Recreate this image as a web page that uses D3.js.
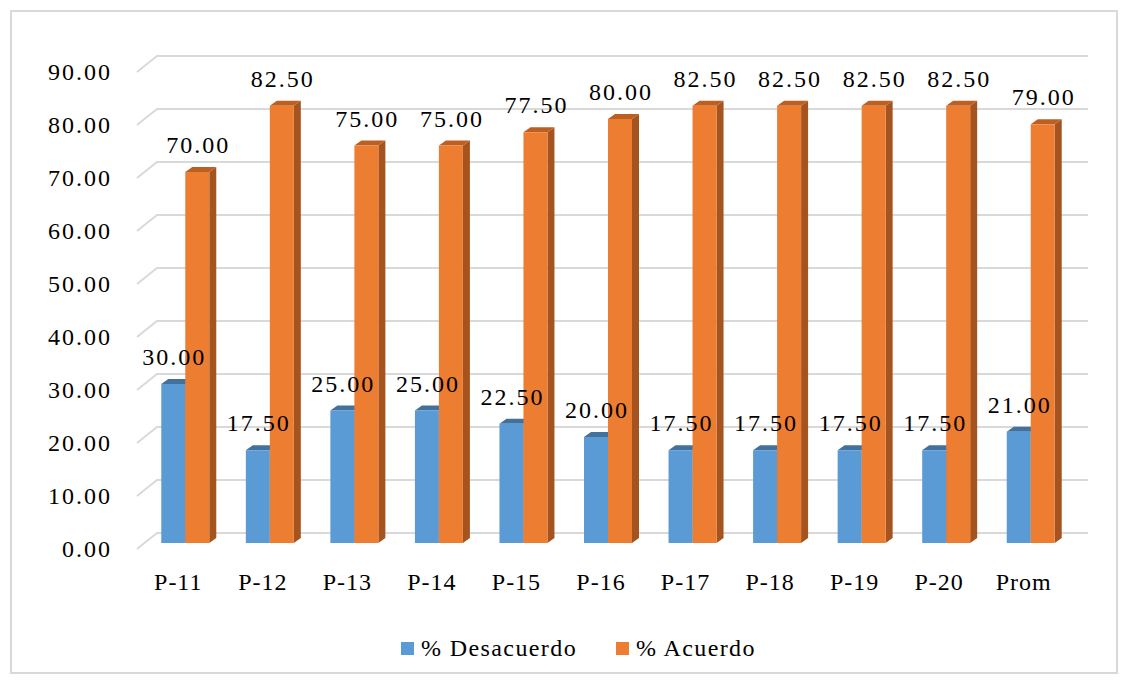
<!DOCTYPE html>
<html>
<head>
<meta charset="utf-8">
<script src="https://cdn.jsdelivr.net/npm/d3@7"></script>
<style>
  body { margin: 0; background: #fff; }
</style>
</head>
<body>
<svg id="chart" width="1128" height="684"></svg>
<script>
// datos del grafico
const categorias = ["P-11", "P-12", "P-13", "P-14", "P-15", "P-16", "P-17", "P-18", "P-19", "P-20", "Prom"];
const desacuerdo = [30.00, 17.50, 25.00, 25.00, 22.50, 20.00, 17.50, 17.50, 17.50, 17.50, 21.00];
const acuerdo = [70.00, 82.50, 75.00, 75.00, 77.50, 80.00, 82.50, 82.50, 82.50, 82.50, 79.00];
const ticks = [0, 10, 20, 30, 40, 50, 60, 70, 80, 90];
const series = [
  { nombre: "% Desacuerdo", valores: desacuerdo, color: "#5B9BD5", top: "#41719C", side: "#3F6F9B" },
  { nombre: "% Acuerdo", valores: acuerdo, color: "#ED7D31", top: "#BE5F22", side: "#A5541F" }
];

const w = 1128, h = 684;
const svg = d3.select("#chart");

// buscar una fuente serif tipo Times que exista
function existeFuente(nombre) {
  const t = svg.append("text").attr("font-size", 40).text("mmmWWlli 90.00 Desacuerdo");
  t.attr("font-family", "monospace");
  const base = t.node().getComputedTextLength();
  t.attr("font-family", "'" + nombre + "', monospace");
  const prueba = t.node().getComputedTextLength();
  t.remove();
  return Math.abs(base - prueba) > 0.5;
}
const candidatas = ["Liberation Serif", "Times New Roman", "Tinos", "Nimbus Roman", "Nimbus Roman No9 L", "FreeSerif", "Noto Serif", "DejaVu Serif"];
let elegida = candidatas.find(existeFuente) || "serif";
const fuente = "'" + elegida + "', serif";
const esTimes = elegida !== "DejaVu Serif" && elegida !== "Noto Serif";
const fs = esTimes ? 24 : 21;
const ls = esTimes ? 2 : 0.5;

// marco
svg.append("rect")
  .attr("x", 11).attr("y", 11)
  .attr("width", w - 22).attr("height", h - 22)
  .attr("fill", "none").attr("stroke", "#d9d9d9").attr("stroke-width", 2);

// escala y en el plano frontal
const yScale = d3.scaleLinear().domain([0, 90]).range([549, 72]);
const depth = { dx: 20, dy: -16 };   // pared del fondo
const barOff = { dx: 7, dy: -6 };    // plano frontal de las barras
const side = { dx: 7, dy: -5 };      // grosor 3D de cada barra

const xScale = d3.scaleBand().domain(categorias).range([143, 1073]).paddingInner(0).paddingOuter(0);
const barW = 24;

// lineas de cuadricula
const grid = svg.append("g");
ticks.forEach(function (t) {
  const y0 = yScale(t);
  grid.append("path")
    .attr("d", "M137," + y0 + " L" + (137 + depth.dx) + "," + (y0 + depth.dy) + " L1088," + (y0 + depth.dy))
    .attr("fill", "none").attr("stroke", "#d9d9d9").attr("stroke-width", 2);
});

// etiquetas eje y
svg.append("g").selectAll("text").data(ticks).join("text")
  .attr("x", 112)
  .attr("y", d => yScale(d) + 8)
  .attr("text-anchor", "end")
  .attr("font-family", fuente)
  .attr("font-size", fs)
  .attr("letter-spacing", ls)
  .attr("fill", "#000")
  .text(d => d.toFixed(2));

// barras
function barY(v) { return yScale(v) + barOff.dy; }
const y0bar = barY(0);

series.forEach(function (s, si) {
  const g = svg.append("g");
  categorias.forEach(function (c, i) {
    const cx = xScale(c) + xScale.bandwidth() / 2;
    const x0 = cx - barW + si * barW;
    const x1 = x0 + barW;
    const yt = barY(s.valores[i]);
    // cara lateral
    g.append("path")
      .attr("d", "M" + x1 + "," + yt + " L" + (x1 + side.dx) + "," + (yt + side.dy) +
        " L" + (x1 + side.dx) + "," + (y0bar + side.dy) + " L" + x1 + "," + y0bar + "Z")
      .attr("fill", s.side);
    // cara superior
    g.append("path")
      .attr("d", "M" + x0 + "," + yt + " L" + (x0 + side.dx) + "," + (yt + side.dy) +
        " L" + (x1 + side.dx) + "," + (yt + side.dy) + " L" + x1 + "," + yt + "Z")
      .attr("fill", s.top);
    // cara frontal
    g.append("rect")
      .attr("x", x0).attr("y", yt)
      .attr("width", barW).attr("height", y0bar - yt)
      .attr("fill", s.color);
  });
});

// etiquetas de datos
series.forEach(function (s, si) {
  svg.append("g").selectAll("text").data(s.valores).join("text")
    .attr("x", (d, i) => xScale(categorias[i]) + xScale.bandwidth() / 2 - barW / 2 + si * barW + 1)
    .attr("y", d => barY(d) - 19)
    .attr("text-anchor", "middle")
    .attr("font-family", fuente)
    .attr("font-size", fs)
    .attr("letter-spacing", ls)
    .attr("fill", "#000")
    .text(d => d.toFixed(2));
});

// etiquetas eje x
svg.append("g").selectAll("text").data(categorias).join("text")
  .attr("x", d => xScale(d) + xScale.bandwidth() / 2 - 7)
  .attr("y", 590)
  .attr("text-anchor", "middle")
  .attr("font-family", fuente)
  .attr("font-size", fs)
  .attr("letter-spacing", ls / 2)
  .attr("fill", "#000")
  .text(d => d);

// leyenda
const leyX = [401, 616];
series.forEach(function (s, si) {
  svg.append("rect")
    .attr("x", leyX[si]).attr("y", 642)
    .attr("width", 13).attr("height", 13)
    .attr("fill", s.color);
  svg.append("text")
    .attr("x", leyX[si] + 20).attr("y", 656)
    .attr("font-family", fuente)
    .attr("font-size", fs)
    .attr("letter-spacing", ls * 0.7)
    .attr("fill", "#000")
    .text(s.nombre);
});
</script>
</body>
</html>
